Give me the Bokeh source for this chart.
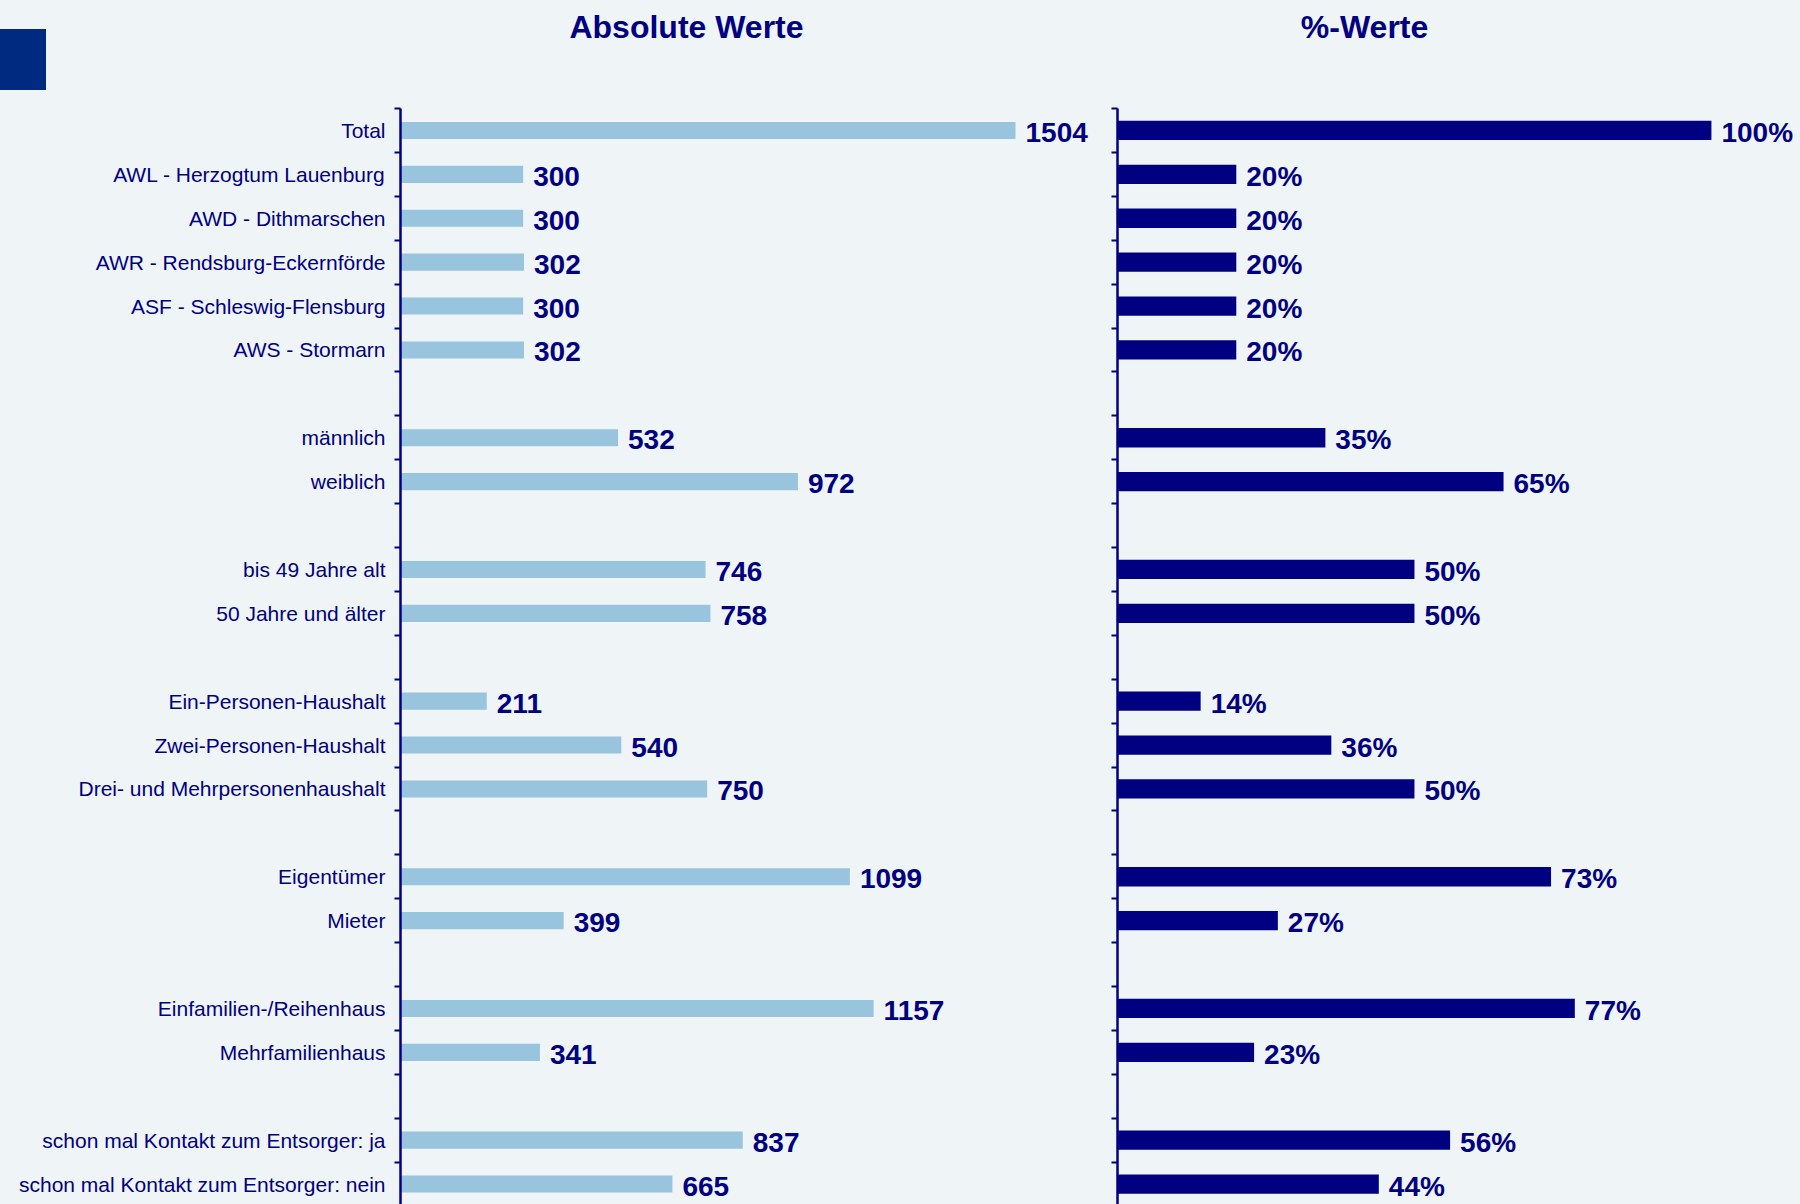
from bokeh.plotting import figure
from bokeh.layouts import row
from bokeh.models import Range1d, FixedTicker, Label, ColumnDataSource, Div
from bokeh.core.properties import value
from bokeh.embed import file_html
from bokeh.resources import INLINE

# ---- data ----
groups = [
    ["Total", "AWL - Herzogtum Lauenburg", "AWD - Dithmarschen",
     "AWR - Rendsburg-Eckernförde", "ASF - Schleswig-Flensburg", "AWS - Stormarn"],
    ["männlich", "weiblich"],
    ["bis 49 Jahre alt", "50 Jahre und älter"],
    ["Ein-Personen-Haushalt", "Zwei-Personen-Haushalt", "Drei- und Mehrpersonenhaushalt"],
    ["Eigentümer", "Mieter"],
    ["Einfamilien-/Reihenhaus", "Mehrfamilienhaus"],
    ["schon mal Kontakt zum Entsorger: ja", "schon mal Kontakt zum Entsorger: nein"],
]
absolute = [1504, 300, 300, 302, 300, 302,
            532, 972,
            746, 758,
            211, 540, 750,
            1099, 399,
            1157, 341,
            837, 665]
percent = [100, 20, 20, 20, 20, 20,
           35, 65,
           50, 50,
           14, 36, 50,
           73, 27,
           77, 23,
           56, 44]
title_abs = "Absolute Werte"
title_pct = "%-Werte"

# ---- positions from group structure (one empty slot between groups) ----
labels, pos = [], []
slot = 0
for g in groups:
    for lab in g:
        labels.append(lab)
        pos.append(slot)
        slot += 1
    slot += 1
n_slots = slot - 1
boundaries = [i - 0.5 for i in range(n_slots + 1)]

NAVY = "#000080"
LIGHT = "#99C4DE"
BG = "#EFF4F7"
SQUARE = "#002A80"
FONT = "Liberation Sans"

H = 1204
TOP = 108            # pixel height of the heading band above the first slot
px_per_slot = 43.9
y_top = -0.5 - TOP / px_per_slot
y_bottom = -0.5 + (H - TOP) / px_per_slot
y_heading = -0.5 - (TOP - 26) / px_per_slot


def base_fig(width, left, x_end):
    p = figure(width=width, height=H, output_backend="svg", toolbar_location=None,
               x_range=Range1d(0, x_end), y_range=Range1d(y_bottom, y_top),
               min_border_left=left, min_border_right=0, min_border_top=0,
               min_border_bottom=0)
    p.background_fill_color = BG
    p.border_fill_color = BG
    p.outline_line_color = None
    p.xgrid.visible = False
    p.ygrid.visible = False
    p.xaxis.visible = False
    ax = p.yaxis[0]
    ax.ticker = FixedTicker(ticks=pos, minor_ticks=boundaries)
    ax.bounds = (-0.5, n_slots + 0.5)
    ax.axis_line_color = NAVY
    ax.axis_line_width = 2.5
    ax.major_tick_line_color = None
    ax.minor_tick_line_color = NAVY
    ax.minor_tick_line_width = 2
    ax.minor_tick_out = 6
    ax.minor_tick_in = 0
    return p


def heading(text, x):
    return Label(x=x, y=y_heading, text=text, text_align="center",
                 text_baseline="middle", text_font=FONT, text_font_size="32px",
                 text_font_style="bold", text_color=NAVY)


# ---- left panel: absolute values ----
p1 = base_fig(1108, 400, 1731.4)
p1.add_layout(heading(title_abs, 699.4))
ax1 = p1.yaxis[0]
ax1.major_label_overrides = {pp: lab for pp, lab in zip(pos, labels)}
ax1.major_label_text_font = FONT
ax1.major_label_text_font_size = "21px"
ax1.major_label_text_color = NAVY
ax1.major_label_standoff = 9

src1 = ColumnDataSource(dict(y=pos, v=absolute, t=[str(a) for a in absolute]))
p1.hbar(y="y", left=0, right="v", height=0.39, source=src1,
        fill_color=LIGHT, line_color=None)
p1.text(x="v", y="y", text="t", source=src1, x_offset=10, y_offset=2,
        text_font=value(FONT), text_font_size="28px",
        text_font_style="bold", text_color=NAVY, text_baseline="middle",
        text_align="left")

# ---- right panel: percentages ----
p2 = base_fig(692, 9, 115.0)
p2.add_layout(heading(title_pct, 41.6))
ax2 = p2.yaxis[0]
ax2.major_label_overrides = {pp: "" for pp in pos}
ax2.major_label_text_font_size = "0px"
ax2.major_label_standoff = 0

src2 = ColumnDataSource(dict(y=pos, v=percent, t=[f"{v}%" for v in percent]))
p2.hbar(y="y", left=0, right="v", height=0.44, source=src2,
        fill_color=NAVY, line_color=None)
p2.text(x="v", y="y", text="t", source=src2, x_offset=10, y_offset=2,
        text_font=value(FONT), text_font_size="28px",
        text_font_style="bold", text_color=NAVY, text_baseline="middle",
        text_align="left")

# decorative square in the top-left corner
square = Div(text="", width=46, height=61, margin=0,
             styles={"position": "absolute", "left": "0px", "top": "29px",
                     "width": "46px", "height": "61px",
                     "background-color": SQUARE})

layout = row(p1, p2, square, styles={"background-color": BG,
                                     "position": "relative"})
open("out.html", "w").write(file_html(layout, INLINE))
